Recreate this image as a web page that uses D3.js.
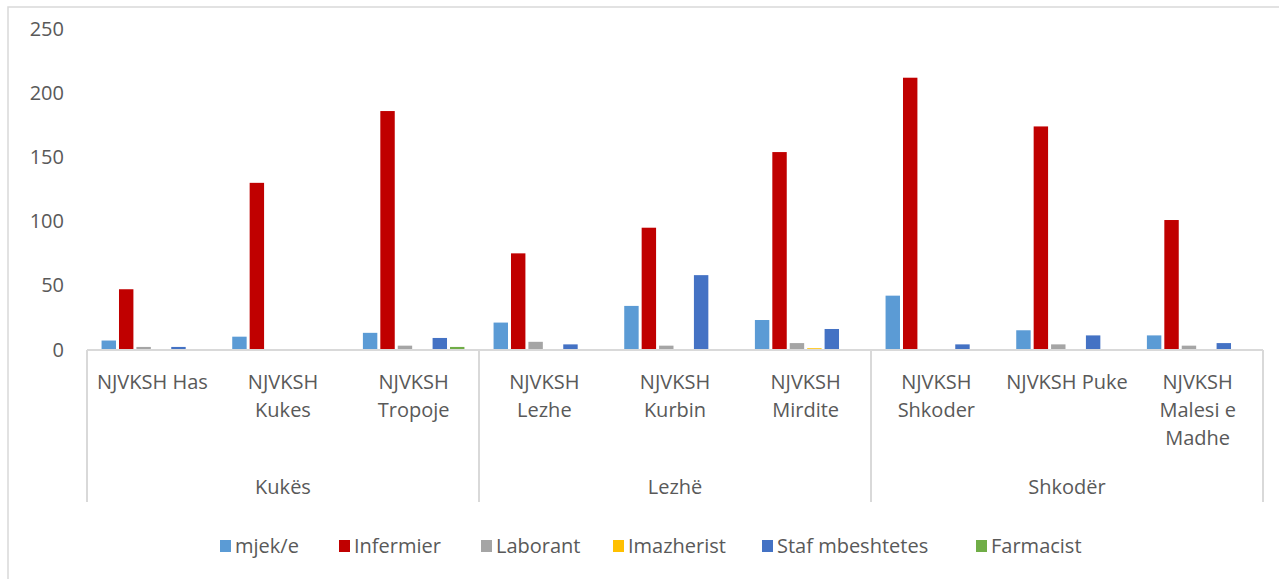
<!DOCTYPE html>
<html>
<head>
<meta charset="utf-8">
<script src="https://cdn.jsdelivr.net/npm/d3@7"></script>
<style>
  body { margin: 0; background: #fff; }
  svg text { font-family: "Open Sans", sans-serif; fill: #595959; }
</style>
</head>
<body>
<svg id="chart" width="1279" height="579"></svg>
<script>
// categorías (cada etiqueta con sus líneas) y grupos
var categories = ["NJVKSH Has", "NJVKSH Kukes", "NJVKSH Tropoje", "NJVKSH Lezhe", "NJVKSH Kurbin",
	"NJVKSH Mirdite", "NJVKSH Shkoder", "NJVKSH Puke", "NJVKSH Malesi e Madhe"];
var categoryLines = [["NJVKSH Has"], ["NJVKSH", "Kukes"], ["NJVKSH", "Tropoje"], ["NJVKSH", "Lezhe"],
	["NJVKSH", "Kurbin"], ["NJVKSH", "Mirdite"], ["NJVKSH", "Shkoder"], ["NJVKSH Puke"], ["NJVKSH", "Malesi e", "Madhe"]];
var groups = ["Kukës", "Lezhë", "Shkodër"];
var groupSize = [3, 3, 3];

var seriesNames = ["mjek/e", "Infermier", "Laborant", "Imazherist", "Staf mbeshtetes", "Farmacist"];
var seriesColors = ["#5B9BD5", "#C00000", "#A5A5A5", "#FFC000", "#4472C4", "#70AD47"];

var mjek       = [7, 10, 13, 21, 34, 23, 42, 15, 11];
var infermier  = [47, 130, 186, 75, 95, 154, 212, 174, 101];
var laborant   = [2, 0, 3, 6, 3, 5, 0, 4, 3];
var imazherist = [0, 0, 0, 0, 0, 1, 0, 0, 0];
var staf       = [2, 0, 9, 4, 58, 16, 4, 11, 5];
var farmacist  = [0, 0, 2, 0, 0, 0, 0, 0, 0];
var seriesValues = [mjek, infermier, laborant, imazherist, staf, farmacist];

var yTicks = [0, 50, 100, 150, 200, 250];

var svg = d3.select("#chart");

// marco exterior
svg.append("rect").attr("x", 8).attr("y", 7).attr("width", 1300).attr("height", 620)
	.attr("fill", "none").attr("stroke", "#d9d9d9").attr("stroke-width", 1.5);

var x0 = d3.scaleBand().domain(categories).range([87, 1263]);
var x1 = d3.scaleBand().domain(seriesNames).range([0, x0.bandwidth()]).paddingOuter(0.75);
var y = d3.scaleLinear().domain([0, 250]).range([349.5, 29]);

// eje y (sólo etiquetas)
svg.append("g").selectAll("text").data(yTicks).enter().append("text")
	.attr("x", 64).attr("y", function(d) { return y(d); })
	.attr("dy", "0.35em").attr("text-anchor", "end")
	.style("font-size", "20px").text(function(d) { return d; });

// barras
var cat = svg.append("g").selectAll("g").data(categories).enter().append("g")
	.attr("transform", function(d) { return "translate(" + x0(d) + ",0)"; });
cat.selectAll("rect").data(function(d, i) {
		return seriesNames.map(function(s, k) { return {s: s, k: k, v: seriesValues[k][i]}; });
	})
	.enter().filter(function(d) { return d.v > 0; }).append("rect")
	.attr("x", function(d) { return x1(d.s) + 1.5; })
	.attr("width", x1.bandwidth() - 3)
	.attr("y", function(d) { return y(d.v); })
	.attr("height", function(d) { return y(0) - y(d.v); })
	.attr("fill", function(d) { return seriesColors[d.k]; });

// eje x y separadores
var axis = svg.append("g").attr("stroke", "#d9d9d9").attr("stroke-width", 2);
axis.append("line").attr("x1", 87).attr("x2", 1263).attr("y1", 350).attr("y2", 350);
var bounds = [0];
groupSize.forEach(function(n, i) { bounds.push(bounds[i] + n); });
axis.selectAll("line.sep").data(bounds).enter().append("line").attr("class", "sep")
	.attr("x1", function(d) { return d < categories.length ? x0(categories[d]) : x0.range()[1]; })
	.attr("x2", function(d) { return d < categories.length ? x0(categories[d]) : x0.range()[1]; })
	.attr("y1", 350).attr("y2", 502);

// etiquetas de categoría
var lab = svg.append("g").selectAll("text").data(categories).enter().append("text")
	.attr("text-anchor", "middle").style("font-size", "20px")
	.attr("transform", function(d) { return "translate(" + (x0(d) + x0.bandwidth() / 2) + ",0)"; });
lab.selectAll("tspan").data(function(d, i) { return categoryLines[i]; }).enter().append("tspan")
	.attr("x", 0).attr("y", function(d, j) { return 389 + j * 28; }).text(function(d) { return d; });

// etiquetas de grupo
svg.append("g").selectAll("text").data(groups).enter().append("text")
	.attr("text-anchor", "middle").style("font-size", "20px")
	.attr("x", function(d, i) {
		var a = x0(categories[bounds[i]]);
		var b = bounds[i + 1] < categories.length ? x0(categories[bounds[i + 1]]) : x0.range()[1];
		return (a + b) / 2;
	})
	.attr("y", 494).text(function(d) { return d; });

// leyenda
var legendX = [220, 339, 481, 613, 762, 976];
var leg = svg.append("g").selectAll("g").data(seriesNames).enter().append("g")
	.attr("transform", function(d, i) { return "translate(" + legendX[i] + ",540)"; });
leg.append("rect").attr("width", 11).attr("height", 12)
	.attr("fill", function(d, i) { return seriesColors[i]; });
leg.append("text").attr("x", 15).attr("y", 6).attr("dy", "0.35em")
	.style("font-size", "20px").text(function(d) { return d; });
</script>
</body>
</html>
